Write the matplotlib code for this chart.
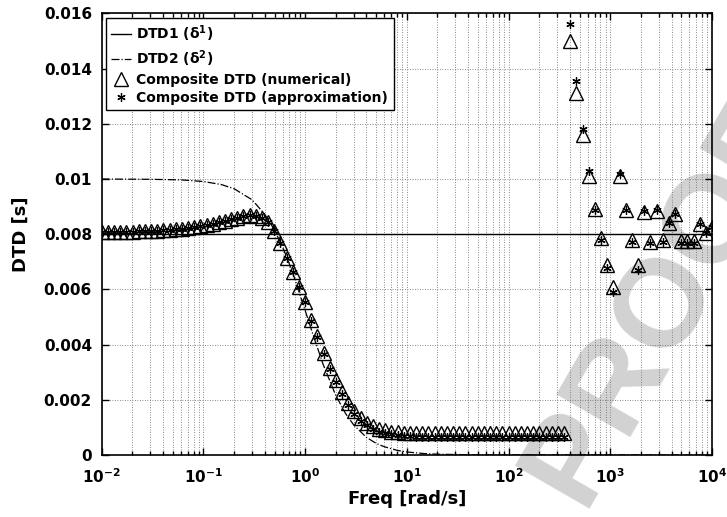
import numpy as np
import matplotlib.pyplot as plt
from matplotlib.ticker import FixedLocator, FixedFormatter, LogLocator, NullFormatter

plt.rcParams['font.family'] = 'DejaVu Sans'
plt.rcParams['font.weight'] = 'bold'
plt.rcParams['axes.labelweight'] = 'bold'
plt.rcParams['mathtext.default'] = 'bf'

# frequency grid of the composite DTD samples (100 log-spaced points)
freq = np.logspace(-2, 4, 100)

dtd_numerical = [
    0.00808, 0.00808, 0.00808, 0.00808, 0.00809, 0.00809, 0.00810, 0.00811, 0.00812, 0.00813,
    0.00814, 0.00816, 0.00818, 0.00820, 0.00823, 0.00826, 0.00830, 0.00834, 0.00838, 0.00843,
    0.00848, 0.00854, 0.00860, 0.00865, 0.00869, 0.00867, 0.00858, 0.00843, 0.00812, 0.00770,
    0.00715, 0.00662, 0.00610, 0.00555, 0.00490, 0.00430, 0.00370, 0.00315, 0.00270, 0.00230,
    0.00190, 0.00160, 0.00135, 0.00117, 0.00104, 0.00095, 0.00089, 0.00085, 0.00082, 0.00080,
    0.00079, 0.00078, 0.00078, 0.00078, 0.00078, 0.00078, 0.00078, 0.00078, 0.00078, 0.00078,
    0.00078, 0.00078, 0.00078, 0.00078, 0.00078, 0.00078, 0.00078, 0.00078, 0.00078, 0.00078,
    0.00078, 0.00078, 0.00078, 0.00078, 0.00078, 0.00078, 0.01500, 0.01310, 0.01160, 0.01010,
    0.00890, 0.00785, 0.00688, 0.00610, 0.01010, 0.00888, 0.00780, 0.00688, 0.00880, 0.00773,
    0.00885, 0.00779, 0.00839, 0.00875, 0.00775, 0.00775, 0.00775, 0.00836, 0.00803, 0.00825,
]

dtd_approx = [
    0.00808, 0.00808, 0.00808, 0.00808, 0.00809, 0.00809, 0.00810, 0.00811, 0.00812, 0.00813,
    0.00814, 0.00816, 0.00818, 0.00820, 0.00823, 0.00826, 0.00830, 0.00834, 0.00838, 0.00843,
    0.00848, 0.00854, 0.00860, 0.00865, 0.00869, 0.00867, 0.00858, 0.00843, 0.00812, 0.00770,
    0.00715, 0.00662, 0.00610, 0.00553, 0.00487, 0.00426, 0.00365, 0.00310, 0.00263, 0.00222,
    0.00182, 0.00150, 0.00125, 0.00107, 0.00094, 0.00085, 0.00079, 0.00075, 0.00072, 0.00070,
    0.00068, 0.00067, 0.00066, 0.00066, 0.00066, 0.00066, 0.00066, 0.00066, 0.00066, 0.00066,
    0.00066, 0.00066, 0.00066, 0.00066, 0.00066, 0.00066, 0.00066, 0.00066, 0.00066, 0.00066,
    0.00066, 0.00066, 0.00066, 0.00066, 0.00066, 0.00066, 0.01560, 0.01357, 0.01180, 0.01030,
    0.00888, 0.00779, 0.00676, 0.00592, 0.01020, 0.00888, 0.00773, 0.00672, 0.00885, 0.00767,
    0.00888, 0.00773, 0.00839, 0.00875, 0.00770, 0.00770, 0.00770, 0.00836, 0.00803, 0.00825,
]

# DTD1 is flat, DTD2 rolls off around 1 rad/s
dtd1_freq = [1e-2, 1e4]
dtd1 = [0.008, 0.008]

dtd2_freq = [0.01, 0.03, 0.06, 0.1, 0.15, 0.2, 0.3, 0.4, 0.5, 0.6, 0.7, 0.8, 1.0, 1.2, 1.5,
             2.0, 2.5, 3.0, 4.0, 5.0, 6.0, 8.0, 10.0, 15.0, 20.0, 50.0, 1e4]
dtd2 = [0.01000, 0.00999, 0.00997, 0.00991, 0.00980, 0.00965, 0.00925, 0.00873, 0.00815,
        0.00754, 0.00692, 0.00633, 0.00524, 0.00434, 0.00329, 0.00216, 0.00150, 0.00109,
        0.00064, 0.00042, 0.00030, 0.00017, 0.00011, 0.00005, 0.00003, 0.000004, 0.0]

xticks = [1e-2, 1e-1, 1e0, 1e1, 1e2, 1e3, 1e4]
xticklabels = [r'$10^{-2}$', r'$10^{-1}$', r'$10^{0}$', r'$10^{1}$',
               r'$10^{2}$', r'$10^{3}$', r'$10^{4}$']
yticks = [0, 0.002, 0.004, 0.006, 0.008, 0.01, 0.012, 0.014, 0.016]
yticklabels = ['0', '0.002', '0.004', '0.006', '0.008', '0.01', '0.012', '0.014', '0.016']

fig = plt.figure(figsize=(7.27, 5.17), dpi=100)
ax = fig.add_axes([0.1399, 0.1199, 0.8395, 0.8541])
ax.patch.set_alpha(0)
ax.set_axisbelow(True)

# grey watermark, kept underneath everything in the axes
fig.text(0.915, 0.42, 'PROOF', rotation=60, rotation_mode='anchor',
         ha='center', va='center', fontsize=90, color='#d2d2d2',
         family='Liberation Sans', fontweight='bold', zorder=-1)

ax.semilogx(dtd1_freq, dtd1, 'k-', lw=1.0, label=r'DTD1 ($\delta^1$)')
ax.semilogx(dtd2_freq, dtd2, 'k-.', lw=0.9, label=r'DTD2 ($\delta^2$)')
ax.semilogx(freq, dtd_numerical, ls='none', marker='^', ms=10, mfc='none',
            mec='k', mew=1.0, label='Composite DTD (numerical)')
ax.semilogx(freq, dtd_approx, ls='none', marker=(6, 2, 0), ms=6,
            mec='k', mew=0.9, label='Composite DTD (approximation)')

ax.set_xlim(1e-2, 1e4)
ax.set_ylim(0, 0.016)
ax.xaxis.set_major_locator(FixedLocator(xticks))
ax.xaxis.set_major_formatter(FixedFormatter(xticklabels))
ax.xaxis.set_minor_locator(LogLocator(base=10, subs=np.arange(2, 10), numticks=20))
ax.xaxis.set_minor_formatter(NullFormatter())
ax.yaxis.set_major_locator(FixedLocator(yticks))
ax.yaxis.set_major_formatter(FixedFormatter(yticklabels))

ax.tick_params(which='both', direction='in', top=True, right=True, width=1.0)
ax.tick_params(axis='x', which='major', length=5, labelsize=11, pad=9)
ax.tick_params(axis='y', which='major', length=5, labelsize=11, pad=7)
ax.tick_params(which='minor', length=3)
for s in ax.spines.values():
    s.set_linewidth(1.2)

ax.grid(True, which='major', ls=(0, (1, 2)), color='#666666', lw=0.6)
ax.grid(True, which='minor', axis='x', ls=(0, (1, 2)), color='#666666', lw=0.6)

ax.set_xlabel('Freq [rad/s]', fontsize=13, labelpad=3)
ax.set_ylabel('DTD [s]', fontsize=13, labelpad=10)

leg = ax.legend(loc='upper left', fontsize=10, frameon=True, fancybox=False,
                edgecolor='k', framealpha=1, borderaxespad=0.3, handlelength=1.4,
                handletextpad=0.4, labelspacing=0.3, borderpad=0.4)
leg.get_frame().set_linewidth(1.0)

fig.savefig('out.png', dpi=100)
